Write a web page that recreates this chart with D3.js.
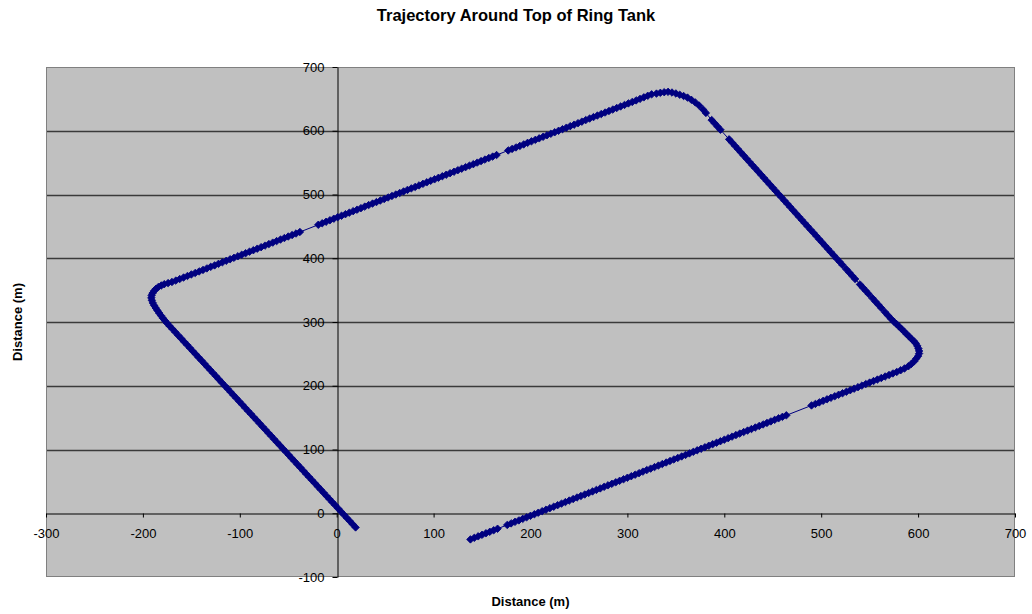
<!DOCTYPE html>
<html>
<head>
<meta charset="utf-8">
<script src="https://cdn.jsdelivr.net/npm/d3@7"></script>
<style>
  body { margin: 0; background: #ffffff; }
  svg { display: block; font-family: "Liberation Sans", Arial, sans-serif; }
</style>
</head>
<body>
<svg id="chart" width="1032" height="614"></svg>
<script>
// Axis tick values
const xTicks = [-300, -200, -100, 0, 100, 200, 300, 400, 500, 600, 700];
const yTicks = [-100, 0, 100, 200, 300, 400, 500, 600, 700];

// Trajectory samples [x, y] in metres, in travel order.
// Leg 1: bottom edge, heading up and to the right
const leg1 = [
  [138,-41.0],[142,-38.6],[146,-36.2],[150,-33.8],[154,-31.4],[158,-29.1],[162,-26.7],[166,-24.3],
  [176,-18.3],[180,-15.9],[184,-13.5],[188,-11.2],[192,-8.8],[196,-6.4],[200,-4.0],[204,-1.6],
  [208,0.8],[212,3.2],[216,5.6],[220,8.0],[224,10.3],[228,12.7],[232,15.1],[236,17.5],[240,19.9],
  [244,22.3],[248,24.7],[252,27.1],[256,29.4],[260,31.8],[264,34.2],[268,36.6],[272,39.0],[276,41.4],
  [280,43.8],[284,46.2],[288,48.6],[292,50.9],[296,53.3],[300,55.7],[304,58.1],[308,60.5],[312,62.9],
  [316,65.3],[320,67.7],[324,70.0],[328,72.4],[332,74.8],[336,77.2],[340,79.6],[344,82.0],[348,84.4],
  [352,86.8],[356,89.1],[360,91.5],[364,93.9],[368,96.3],[372,98.7],[376,101.1],[380,103.5],[384,105.9],
  [388,108.3],[392,110.6],[396,113.0],[400,115.4],[404,117.8],[408,120.2],[412,122.6],[416,125.0],
  [420,127.4],[424,129.7],[428,132.1],[432,134.5],[436,136.9],[440,139.3],[444,141.7],[448,144.1],
  [452,146.5],[456,148.9],[460,151.2],[464,153.6],
  [490,169.1],[494,171.5],[498,173.9],[502,176.3],[506,178.7],[510,181.1],[514,183.5],[518,185.9],
  [522,188.2],[526,190.6],[530,193.0],[534,195.4],[538,197.8],[542,200.2],[546,202.6],[550,205.0],
  [554,207.4],[558,209.7],[562,212.1],[566,214.5],[570,216.9],[574,219.3],[578,221.7],[582,224.3],
  [586,227.2],[590,230.6],[593,234.2],[596,238.3],[598,242.5],[600,246.5],[601,250.5],[601,254.5]
];
// Leg 2: right edge, heading up and to the left
const leg2 = [
  [600.3,258.5],[599.2,262.5],[597.6,266.5],[595.6,270.0],[593,273.8],[590.5,277.5],[588,281.3],
  [585.5,285.2],[583,289.0],[580.3,293.0],[577.6,297.0],[575,300.5],[572,305.1],[569,310.1],[566,315.2],
  [562,321.9],[559,327.0],[556,332.0],[553,337.1],
  [549,343.8],[546,348.9],[543,353.9],[540,359.0],
  [535,367.4],[532,372.4],[529,377.5],[526,382.6],
  [522,389.3],[519,394.4],[516,399.4],[513,404.5],[510,409.5],[507,414.6],[504,419.6],
  [501,424.7],[498,429.7],[495,434.8],[492,439.9],[489,444.9],[486,450.0],[483,455.0],[480,460.1],
  [477,465.1],[474,470.2],[471,475.2],[468,480.3],[465,485.4],[462,490.4],[459,495.5],[456,500.5],
  [453,505.6],[450,510.6],[447,515.7],[444,520.7],[441,525.8],[438,530.8],[435,535.9],[432,541.0],
  [429,546.0],[426,551.1],[423,556.1],[420,561.2],[417,566.2],[414,571.3],[411,576.3],[408,581.4],
  [405,586.5],
  [396,601.6],[393,606.6],[390,611.7],[387,616.7],
  [381,628.0],[378,633.5],[374,639.5],[370,644.5],[366,648.5],[362,652.0],[358,654.5],[354,656.5],
  [350,658.5],[346,660.0],[342,661.0]
];
// Leg 3: top edge, heading down and to the left
const leg3 = [
  [338,660.5],[334,659.5],[330,658.3],[325,657.1],[321,654.8],[317,652.4],[313,650.0],[309,647.6],
  [305,645.2],[301,642.9],[297,640.5],[293,638.1],[289,635.7],[285,633.3],[281,631.0],[277,628.6],
  [273,626.2],[269,623.8],[265,621.4],[261,619.1],[257,616.7],[253,614.3],[249,611.9],[245,609.5],
  [241,607.2],[237,604.8],[233,602.4],[229,600.0],[225,597.6],[221,595.3],[217,592.9],[213,590.5],
  [209,588.1],[205,585.7],[201,583.4],[197,581.0],[193,578.6],[189,576.2],[185,573.8],[181,571.5],
  [177,569.1],
  [165,561.9],[161,559.5],[157,557.2],[153,554.8],[149,552.4],[145,550.0],[141,547.6],[137,545.3],
  [133,542.9],[129,540.5],[125,538.1],[121,535.7],[117,533.4],[113,531.0],[109,528.6],[105,526.2],
  [101,523.8],[97,521.5],[93,519.1],[89,516.7],[85,514.3],[81,511.9],[77,509.6],[73,507.2],[69,504.8],
  [65,502.4],[61,500.0],[57,497.7],[53,495.3],[49,492.9],[45,490.5],[41,488.1],[37,485.8],[33,483.4],
  [29,481.0],[25,478.6],[21,476.2],[17,473.9],[13,471.5],[9,469.1],[5,466.7],[1,464.4],[-3,462.0],
  [-7,459.6],[-11,457.2],[-15,454.8],[-19,452.5],
  [-38,441.2],[-42,438.8],[-46,436.4],[-50,434.1],[-54,431.7],[-58,429.3],[-62,426.9],[-66,424.5],
  [-70,422.2],[-74,419.8],[-78,417.4],[-82,415.0],[-86,412.6],[-90,410.3],[-94,407.9],[-98,405.5],
  [-102,403.1],[-106,400.7],[-110,398.4],[-114,396.0],[-118,393.6],[-122,391.2],[-126,388.8],
  [-130,386.5],[-134,384.1],[-138,381.7],[-142,379.3],[-146,376.9],[-150,374.6],[-154,372.2],
  [-158,369.8],[-162,367.4],[-166,365.0],[-170,362.8],[-174,361.0],[-178,359.3],[-181,357.3],
  [-184,355.0],[-186.5,352.0],[-188.5,348.8],[-190,345.3],[-191,341.8]
];
// Leg 4: left edge, heading down and to the right
const leg4 = [
  [-191.3,338.0],[-190.8,334.0],[-189.8,330.0],[-188.4,326.0],[-186.8,322.0],[-185.0,318.0],
  [-183.2,314.0],[-181.3,310.0],[-179.3,306.0],[-177.2,302.0],[-175,298.0],[-172.5,293.8],
  [-169.5,288.9],[-166.5,284.0],[-163.5,279.0],[-160.5,274.1],[-157.5,269.1],[-154.5,264.2],
  [-151.5,259.3],[-148.5,254.3],[-145.5,249.4],[-142.5,244.4],[-139.5,239.5],[-136.5,234.6],
  [-133.5,229.6],[-130.5,224.7],[-127.5,219.8],[-124.5,214.8],[-121.5,209.9],[-118.5,204.9],
  [-115.5,200.0],[-112.5,195.1],[-109.5,190.1],[-106.5,185.2],[-103.5,180.3],[-100.5,175.3],
  [-97.5,170.4],[-94.5,165.4],[-91.5,160.5],[-88.5,155.6],[-85.5,150.6],[-82.5,145.7],[-79.5,140.8],
  [-76.5,135.8],[-73.5,130.9],[-70.5,125.9],[-67.5,121.0],[-64.5,116.1],[-61.5,111.1],[-58.5,106.2],
  [-55.5,101.2],[-52.5,96.3],[-49.5,91.4],[-46.5,86.4],[-43.5,81.5],[-40.5,76.6],[-37.5,71.6],
  [-34.5,66.7],[-31.5,61.7],[-28.5,56.8],[-25.5,51.9],[-22.5,46.9],[-19.5,42.0],[-16.5,37.1],
  [-13.5,32.1],[-10.5,27.2],[-7.5,22.2],[-4.5,17.3],[-1.5,12.4],[1.5,7.4],[4.5,2.5],[7.5,-2.5],
  [10.5,-7.4],[13.5,-12.3],[16.5,-17.3],[19.5,-22.2]
];

const track = leg1.concat(leg2, leg3, leg4);

const svg = d3.select("#chart");
const plot = { left: 46, right: 1015, top: 67, bottom: 577 };

const x = d3.scaleLinear().domain([-300, 700]).range([plot.left, plot.right]);
const y = d3.scaleLinear().domain([-100, 700]).range([plot.bottom, plot.top]);

// Plot area background
svg.append("rect")
  .attr("x", plot.left).attr("y", plot.top)
  .attr("width", plot.right - plot.left).attr("height", plot.bottom - plot.top)
  .attr("fill", "#c0c0c0");

// Horizontal gridlines
svg.append("g")
  .selectAll("line")
  .data(yTicks.filter(v => v > 0 && v < 700))
  .join("line")
  .attr("x1", plot.left).attr("x2", plot.right)
  .attr("y1", d => Math.round(y(d)) + 0.5).attr("y2", d => Math.round(y(d)) + 0.5)
  .attr("stroke", "#3a3a3a").attr("stroke-width", 1.4);

// Plot border
svg.append("rect")
  .attr("x", plot.left + 0.5).attr("y", plot.top + 0.5)
  .attr("width", plot.right - plot.left - 1).attr("height", plot.bottom - plot.top - 1)
  .attr("fill", "none").attr("stroke", "#808080").attr("stroke-width", 1);

// Plain hyphen-minus for negative tick labels
const plainNumber = d => String(d);

// X axis crossing at y = 0
const xAxis = svg.append("g")
  .attr("transform", `translate(0,${Math.round(y(0)) + 0.5})`)
  .call(d3.axisBottom(x).tickValues(xTicks).tickSize(4).tickSizeOuter(0).tickPadding(11)
    .tickFormat(plainNumber));

// Y axis crossing at x = 0
const yAxis = svg.append("g")
  .attr("transform", `translate(${Math.round(x(0)) + 0.5},0)`)
  .call(d3.axisLeft(y).tickValues(yTicks).tickSize(5).tickSizeOuter(0).tickPadding(8)
    .tickFormat(plainNumber));

[xAxis, yAxis].forEach(g => {
  g.select(".domain").attr("stroke", "#000").attr("stroke-width", 1);
  g.selectAll(".tick line").attr("stroke", "#000");
  g.selectAll(".tick text")
    .attr("fill", "#000")
    .style("font-family", "'Liberation Sans', Arial, sans-serif")
    .style("font-size", "13px");
});

// Connecting line through the samples
const line = d3.line().x(d => x(d[0])).y(d => y(d[1]));
svg.append("path")
  .datum(track)
  .attr("d", line)
  .attr("fill", "none")
  .attr("stroke", "#000080")
  .attr("stroke-width", 1);

// Diamond markers
const diamond = d3.symbol().type(d3.symbolSquare).size(28);
svg.append("g")
  .selectAll("path")
  .data(track)
  .join("path")
  .attr("d", diamond)
  .attr("transform", d => `translate(${x(d[0])},${y(d[1])}) rotate(45)`)
  .attr("fill", "#000080")
  .attr("stroke", "#000080")
  .attr("stroke-width", 0.8);

// Title and axis titles
svg.append("text")
  .attr("x", 516).attr("y", 21)
  .attr("text-anchor", "middle")
  .style("font-size", "16.5px").style("font-weight", "bold")
  .text("Trajectory Around Top of Ring Tank");

svg.append("text")
  .attr("x", (plot.left + plot.right) / 2).attr("y", 606)
  .attr("text-anchor", "middle")
  .style("font-size", "13px").style("font-weight", "bold")
  .text("Distance (m)");

svg.append("text")
  .attr("transform", `translate(22,${(plot.top + plot.bottom) / 2}) rotate(-90)`)
  .attr("text-anchor", "middle")
  .style("font-size", "13px").style("font-weight", "bold")
  .text("Distance (m)");
</script>
</body>
</html>
